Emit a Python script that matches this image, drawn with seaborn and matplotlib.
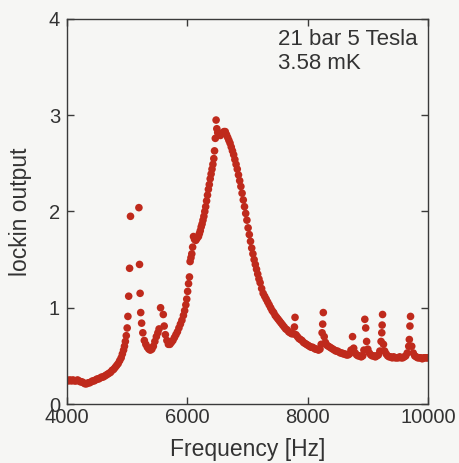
import matplotlib
matplotlib.use("Agg")
import matplotlib.pyplot as plt
import seaborn as sns
import pandas as pd

# ---- data ----
freq_hz = [
    4000, 4025, 4050, 4075, 4100, 4125, 4150, 4175, 4200, 4225, 4250, 4275, 4300, 4325, 4350, 4375,
    4400, 4425, 4450, 4475, 4500, 4525, 4550, 4575, 4600, 4625, 4650, 4675, 4700, 4725, 4750, 4775,
    4800, 4825, 4850, 4875, 4900, 4920, 4940, 4955, 4970, 4985, 5000, 5012, 5025, 5040, 5055,
    5195, 5205, 5215, 5225, 5240, 5260, 5285, 5310, 5335, 5360, 5385, 5410, 5435, 5460, 5485, 5510,
    5530, 5555, 5600, 5615, 5635, 5660, 5685, 5710, 5735, 5760, 5785, 5810, 5835, 5860, 5885, 5910,
    5935, 5955, 5975, 5990, 6005, 6020, 6035, 6046, 6060, 6074, 6088, 6102, 6120, 6140, 6160, 6185,
    6200, 6215, 6230, 6245, 6260, 6275, 6290, 6305, 6320, 6335, 6350, 6365, 6380, 6395, 6410, 6425,
    6440, 6452, 6465, 6478, 6490, 6505, 6520, 6535, 6550, 6570, 6590, 6610, 6630, 6650, 6670, 6690,
    6710, 6730, 6750, 6770, 6790, 6810, 6830, 6850, 6870, 6890, 6910, 6930, 6950, 6970, 6990, 7010,
    7030, 7050, 7070, 7090, 7110, 7130, 7150, 7170, 7190, 7210, 7235, 7260, 7285, 7310, 7335, 7360,
    7385, 7410, 7435, 7460, 7485, 7510, 7535, 7560, 7585, 7610, 7635, 7660, 7685, 7710, 7735, 7760,
    7780, 7790, 7805, 7830, 7855, 7880, 7905, 7930, 7955, 7980, 8005, 8030, 8055, 8080, 8105, 8130,
    8155, 8180, 8205, 8225, 8240, 8250, 8260, 8275, 8295, 8320, 8345, 8370, 8395, 8420, 8445, 8470,
    8495, 8520, 8545, 8570, 8595, 8620, 8645, 8670, 8695, 8720, 8746, 8765, 8790, 8815, 8840, 8865,
    8890, 8915, 8935, 8950, 8965, 8980, 9000, 9025, 9050, 9075, 9100, 9125, 9150, 9175, 9200, 9220,
    9232, 9238, 9245, 9260, 9280, 9305, 9330, 9355, 9380, 9405, 9430, 9455, 9480, 9505, 9530, 9555,
    9580, 9605, 9630, 9655, 9680, 9690, 9700, 9710, 9730, 9755, 9780, 9805, 9830, 9855, 9880, 9905,
    9930, 9955, 9980, 10000,
]
lockin_output = [
    0.25, 0.24, 0.25, 0.24, 0.25, 0.24, 0.24, 0.25, 0.24, 0.23, 0.23, 0.22, 0.21, 0.21, 0.22, 0.22,
    0.23, 0.24, 0.24, 0.25, 0.26, 0.26, 0.27, 0.28, 0.28, 0.29, 0.30, 0.31, 0.32, 0.33, 0.35, 0.36,
    0.38, 0.40, 0.42, 0.45, 0.48, 0.52, 0.56, 0.60, 0.65, 0.71, 0.79, 0.91, 1.12, 1.41, 1.95,
    2.04, 1.45, 1.15, 0.95, 0.84, 0.74, 0.66, 0.62, 0.59, 0.57, 0.56, 0.57, 0.60, 0.65, 0.70, 0.74,
    0.78, 1.00, 0.93, 0.81, 0.72, 0.66, 0.62, 0.62, 0.64, 0.66, 0.69, 0.72, 0.75, 0.79, 0.83, 0.87,
    0.92, 0.97, 1.03, 1.09, 1.17, 1.25, 1.32, 1.48, 1.52, 1.56, 1.63, 1.74, 1.71, 1.70, 1.72, 1.74,
    1.77, 1.80, 1.84, 1.87, 1.91, 1.95, 2.00, 2.05, 2.11, 2.17, 2.23, 2.28, 2.34, 2.39, 2.44, 2.49,
    2.55, 2.63, 2.76, 2.95, 2.86, 2.82, 2.81, 2.80, 2.79, 2.81, 2.82, 2.83, 2.83, 2.80, 2.77, 2.74,
    2.71, 2.67, 2.63, 2.59, 2.54, 2.49, 2.44, 2.38, 2.32, 2.26, 2.19, 2.12, 2.05, 1.98, 1.91, 1.83,
    1.76, 1.69, 1.62, 1.56, 1.50, 1.45, 1.40, 1.35, 1.30, 1.26, 1.20, 1.15, 1.12, 1.09, 1.06, 1.03,
    1.00, 0.97, 0.95, 0.92, 0.90, 0.88, 0.86, 0.84, 0.82, 0.80, 0.78, 0.77, 0.75, 0.74, 0.73, 0.73,
    0.80, 0.90, 0.72, 0.70, 0.68, 0.67, 0.66, 0.64, 0.63, 0.62, 0.61, 0.60, 0.59, 0.59, 0.58, 0.57,
    0.57, 0.56, 0.57, 0.62, 0.74, 0.83, 0.95, 0.70, 0.64, 0.61, 0.60, 0.59, 0.58, 0.57, 0.56, 0.55,
    0.55, 0.54, 0.53, 0.53, 0.52, 0.52, 0.51, 0.51, 0.52, 0.56, 0.70, 0.58, 0.53, 0.51, 0.50, 0.50,
    0.49, 0.50, 0.56, 0.88, 0.79, 0.65, 0.57, 0.53, 0.51, 0.50, 0.50, 0.49, 0.50, 0.51, 0.55, 0.65,
    0.74, 0.82, 0.93, 0.62, 0.55, 0.52, 0.50, 0.49, 0.49, 0.48, 0.49, 0.48, 0.48, 0.48, 0.49, 0.48,
    0.48, 0.49, 0.50, 0.53, 0.60, 0.67, 0.81, 0.91, 0.60, 0.53, 0.50, 0.49, 0.48, 0.48, 0.48, 0.47,
    0.48, 0.48, 0.48, 0.48,
]
x_ticks = [4000, 6000, 8000, 10000]
y_ticks = [0, 1, 2, 3, 4]
annotation_lines = ["21 bar 5 Tesla", "3.58 mK"]
x_label = "Frequency [Hz]"
y_label = "lockin output"

df = pd.DataFrame({"freq": freq_hz, "lockin": lockin_output})

sns.set_style("ticks")
plt.rcParams["font.family"] = ["Liberation Sans", "DejaVu Sans"]

BG = "#f6f6f4"
INK = "#333333"
DOT = "#bf2a1c"

fig = plt.figure(figsize=(4.6, 4.63), dpi=100, facecolor=BG)
ax = fig.add_axes([0.1457, 0.1274, 0.9304 - 0.1457, 0.959 - 0.1274])
ax.set_facecolor(BG)

sns.scatterplot(data=df, x="freq", y="lockin", ax=ax, color=DOT, s=30,
                linewidth=0, edgecolor="none", legend=False)

ax.set_xlim(4000, 10000)
ax.set_ylim(0, 4)
ax.set_xticks(x_ticks)
ax.set_yticks(y_ticks)
ax.set_xticklabels([str(t) for t in x_ticks])
ax.set_yticklabels([str(t) for t in y_ticks])

for sp in ax.spines.values():
    sp.set_visible(True)
    sp.set_color("#3a3a3a")
    sp.set_linewidth(1.0)

ax.tick_params(axis="both", direction="in", length=5, width=1.0, color="#3a3a3a",
               labelcolor=INK, labelsize=14.5, top=True, right=True)
ax.tick_params(axis="x", pad=3)
ax.tick_params(axis="y", pad=5)

ax.set_xlabel(x_label, fontsize=16.5, color=INK, labelpad=8)
ax.set_ylabel(y_label, fontsize=16.5, color=INK, labelpad=12)

ax.text(0.585, 0.975, "\n".join(annotation_lines), transform=ax.transAxes,
        ha="left", va="top", fontsize=16, color=INK, linespacing=1.2)

fig.savefig("out.png", dpi=100, facecolor=BG)
